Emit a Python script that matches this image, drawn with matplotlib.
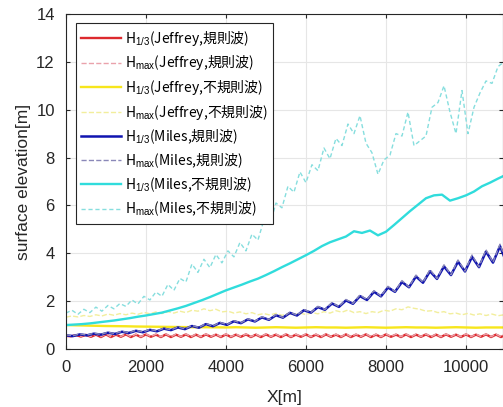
import numpy as np
import matplotlib
matplotlib.use("Agg")
import matplotlib.pyplot as plt

plt.rcParams['font.family'] = ['Liberation Sans', 'Noto Sans CJK TC', 'DejaVu Sans']
plt.rcParams['mathtext.fontset'] = 'custom'
plt.rcParams['mathtext.rm'] = 'Liberation Sans'
plt.rcParams['mathtext.it'] = 'Liberation Sans:italic'

# --- data (x in m, heights in m) ---
x_red = np.arange(0, 11001, 125)
h13_jeffrey_reg = [
    0.55, 0.53, 0.58, 0.52, 0.59, 0.51, 0.60, 0.50, 0.61, 0.50,
    0.60, 0.51, 0.61, 0.50, 0.60, 0.50, 0.61, 0.51, 0.60, 0.50,
    0.61, 0.50, 0.60, 0.51, 0.61, 0.50, 0.60, 0.50, 0.61, 0.51,
    0.60, 0.50, 0.61, 0.50, 0.60, 0.51, 0.61, 0.50, 0.60, 0.50,
    0.61, 0.51, 0.60, 0.50, 0.61, 0.50, 0.60, 0.51, 0.61, 0.50,
    0.60, 0.50, 0.61, 0.51, 0.60, 0.50, 0.61, 0.50, 0.60, 0.51,
    0.61, 0.50, 0.60, 0.50, 0.61, 0.51, 0.60, 0.50, 0.61, 0.50,
    0.60, 0.51, 0.61, 0.50, 0.60, 0.50, 0.61, 0.51, 0.60, 0.50,
    0.61, 0.50, 0.60, 0.51, 0.61, 0.50, 0.60, 0.50, 0.61]
hmax_jeffrey_reg = [
    0.56, 0.54, 0.60, 0.53, 0.61, 0.52, 0.62, 0.51, 0.63, 0.51,
    0.62, 0.52, 0.63, 0.51, 0.62, 0.51, 0.63, 0.52, 0.62, 0.51,
    0.63, 0.51, 0.62, 0.52, 0.63, 0.51, 0.62, 0.51, 0.63, 0.52,
    0.62, 0.51, 0.63, 0.51, 0.62, 0.52, 0.63, 0.51, 0.62, 0.51,
    0.63, 0.52, 0.62, 0.51, 0.63, 0.51, 0.62, 0.52, 0.63, 0.51,
    0.62, 0.51, 0.63, 0.52, 0.62, 0.51, 0.63, 0.51, 0.62, 0.52,
    0.63, 0.51, 0.62, 0.51, 0.63, 0.52, 0.62, 0.51, 0.63, 0.51,
    0.62, 0.52, 0.63, 0.51, 0.62, 0.51, 0.63, 0.52, 0.62, 0.51,
    0.63, 0.51, 0.62, 0.52, 0.63, 0.51, 0.62, 0.51, 0.63]

x_yel = np.arange(0, 11001, 250)
h13_jeffrey_irr = [
    1.00, 0.99, 0.98, 0.97, 0.96, 0.955, 0.95, 0.94, 0.935, 0.93,
    0.925, 0.92, 0.915, 0.91, 0.91, 0.905, 0.90, 0.91, 0.90, 0.89,
    0.90, 0.91, 0.90, 0.89, 0.90, 0.91, 0.90, 0.90, 0.89, 0.90,
    0.91, 0.90, 0.89, 0.90, 0.91, 0.90, 0.90, 0.89, 0.90, 0.91,
    0.90, 0.89, 0.90, 0.90, 0.90]

x_irr = np.arange(0, 11000, 150)
hmax_jeffrey_irr = [
    1.33, 1.38, 1.34, 1.40, 1.36, 1.43, 1.38, 1.46, 1.41, 1.48,
    1.43, 1.50, 1.45, 1.53, 1.47, 1.55, 1.48, 1.56, 1.50, 1.58,
    1.52, 1.62, 1.58, 1.68, 1.60, 1.66, 1.55, 1.58, 1.50, 1.55,
    1.47, 1.52, 1.43, 1.48, 1.42, 1.49, 1.41, 1.48, 1.42, 1.50,
    1.44, 1.52, 1.47, 1.56, 1.50, 1.60, 1.54, 1.63, 1.52, 1.56,
    1.48, 1.56, 1.52, 1.62, 1.58, 1.68, 1.64, 1.76, 1.70, 1.66,
    1.58, 1.60, 1.52, 1.56, 1.47, 1.50, 1.43, 1.49, 1.42, 1.47,
    1.40, 1.46, 1.39, 1.43]

x_blue = np.arange(0, 11100, 175)
h13_miles_reg = [
    0.57, 0.54, 0.61, 0.57, 0.64, 0.60, 0.68, 0.63, 0.72, 0.67,
    0.76, 0.70, 0.80, 0.74, 0.85, 0.79, 0.90, 0.83, 0.96, 0.89,
    1.04, 0.95, 1.09, 1.01, 1.16, 1.08, 1.24, 1.15, 1.32, 1.22,
    1.41, 1.31, 1.51, 1.40, 1.62, 1.52, 1.75, 1.64, 1.90, 1.76,
    2.03, 1.89, 2.21, 2.05, 2.39, 2.20, 2.57, 2.39, 2.80, 2.58,
    3.03, 2.77, 3.25, 2.93, 3.45, 3.09, 3.65, 3.24, 3.85, 3.42,
    4.07, 3.61, 4.30, 3.55]
hmax_miles_reg = [
    0.59, 0.55, 0.63, 0.58, 0.66, 0.61, 0.70, 0.64, 0.74, 0.68,
    0.78, 0.71, 0.82, 0.75, 0.87, 0.80, 0.92, 0.84, 0.98, 0.90,
    1.06, 0.96, 1.11, 1.02, 1.18, 1.09, 1.26, 1.16, 1.35, 1.23,
    1.44, 1.32, 1.54, 1.41, 1.65, 1.53, 1.78, 1.65, 1.94, 1.77,
    2.07, 1.90, 2.26, 2.06, 2.44, 2.21, 2.62, 2.40, 2.86, 2.59,
    3.09, 2.78, 3.32, 2.94, 3.52, 3.10, 3.72, 3.25, 3.93, 3.43,
    4.15, 3.62, 4.38, 3.56]

x_cyan = np.arange(0, 11001, 200)
h13_miles_irr = [
    1.00, 1.02, 1.04, 1.07, 1.11, 1.15, 1.19, 1.24, 1.29, 1.35,
    1.40, 1.46, 1.52, 1.61, 1.70, 1.80, 1.92, 2.04, 2.17, 2.31,
    2.45, 2.57, 2.69, 2.82, 2.94, 3.09, 3.25, 3.42, 3.58, 3.75,
    3.92, 4.10, 4.30, 4.46, 4.58, 4.70, 4.92, 4.85, 4.95, 4.75,
    4.90, 5.18, 5.47, 5.76, 6.03, 6.30, 6.42, 6.45, 6.20, 6.30,
    6.42, 6.58, 6.80, 6.95, 7.12, 7.28]
hmax_miles_irr = [
    1.50, 1.62, 1.45, 1.66, 1.52, 1.75, 1.58, 1.82, 1.68, 1.90,
    1.78, 2.05, 1.88, 2.20, 2.05, 2.38, 2.20, 2.70, 2.45, 2.95,
    2.80, 3.55, 3.20, 3.75, 3.40, 3.95, 3.60, 4.10, 3.85, 4.45,
    4.10, 4.80, 4.55, 5.40, 5.20, 6.10, 5.90, 6.80, 6.55, 7.40,
    6.95, 7.70, 7.45, 8.40, 7.95, 8.80, 8.50, 9.40, 9.00, 9.75,
    8.60, 8.20, 7.30, 7.90, 8.10, 9.00, 8.90, 9.90, 8.50, 8.70,
    8.90, 10.10, 10.30, 11.00, 9.90, 9.00, 10.80, 9.00, 10.10, 10.70,
    11.20, 11.10, 11.80, 12.00]

fig = plt.figure(figsize=(5.03, 4.07), dpi=100)
ax = fig.add_axes([0.131, 0.1425, 0.869, 0.8232])

ax.plot(x_red, h13_jeffrey_reg, '-', color='#dd2a2e', lw=1.7, label=r'H$_{\mathrm{1/3}}$(Jeffrey,規則波)')
ax.plot(x_red, hmax_jeffrey_reg, '--', color='#eaa2ab', lw=1.0, label=r'H$_{\mathrm{max}}$(Jeffrey,規則波)')
ax.plot(x_yel, h13_jeffrey_irr, '-', color='#f7e61c', lw=1.7, label=r'H$_{\mathrm{1/3}}$(Jeffrey,不規則波)')
ax.plot(x_irr, hmax_jeffrey_irr, '--', color='#f2ee9c', lw=1.0, label=r'H$_{\mathrm{max}}$(Jeffrey,不規則波)')
ax.plot(x_blue, h13_miles_reg, '-', color='#1014b0', lw=1.8, label=r'H$_{\mathrm{1/3}}$(Miles,規則波)')
ax.plot(x_blue, hmax_miles_reg, '--', color='#8a88b8', lw=1.0, label=r'H$_{\mathrm{max}}$(Miles,規則波)')
ax.plot(x_cyan, h13_miles_irr, '-', color='#30dcdc', lw=1.7, label=r'H$_{\mathrm{1/3}}$(Miles,不規則波)')
ax.plot(x_irr, hmax_miles_irr, '--', color='#86dede', lw=1.0, dashes=(3, 2), label=r'H$_{\mathrm{max}}$(Miles,不規則波)')

ax.set_xlim(0, 10925)
ax.set_ylim(0, 14)
ax.set_xticks(np.arange(0, 10001, 2000))
ax.set_yticks(np.arange(0, 15, 2))
ax.grid(True, color='#e6e6e6', lw=0.8)
ax.set_axisbelow(True)
ax.tick_params(direction='in', top=True, right=True, labelsize=12, colors='#262626', length=3)
ax.tick_params(axis='x', pad=8)
ax.tick_params(axis='y', pad=8)
for s in ax.spines.values():
    s.set_color('#262626')
    s.set_linewidth(0.8)

ax.set_xlabel('X[m]', fontsize=12.5, color='#262626', labelpad=11)
ax.set_ylabel('surface elevation[m]', fontsize=12.5, color='#262626', labelpad=4)

# legend text in a CJK family so the Chinese characters render inside mathtext labels
leg = ax.legend(loc='upper left', bbox_to_anchor=(0.022, 0.972),
                prop={'family': 'Noto Sans CJK TC', 'size': 10},
                handlelength=2.9, handletextpad=0.25, labelspacing=0.4,
                borderpad=0.4, fancybox=False, framealpha=1, borderaxespad=0)
leg.get_frame().set_edgecolor('#262626')
leg.get_frame().set_linewidth(0.8)

fig.savefig('out.png', dpi=100)
